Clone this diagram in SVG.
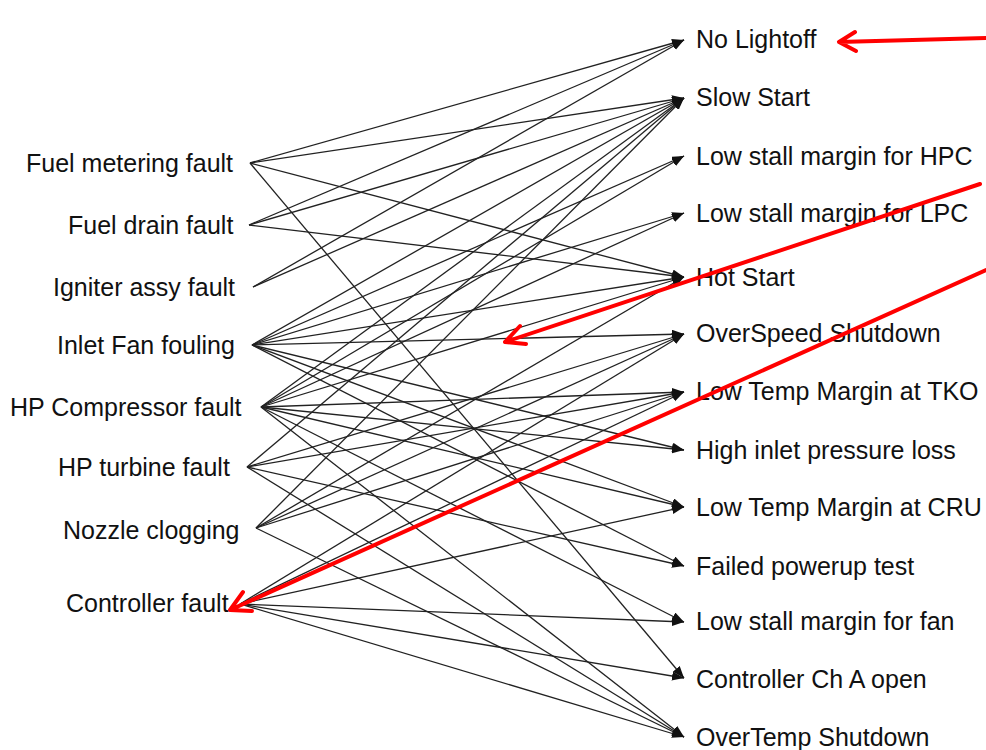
<svg xmlns="http://www.w3.org/2000/svg" width="986" height="750" viewBox="0 0 986 750">
<style>
text{font-family:"Liberation Sans",Arial,sans-serif;font-size:25px;fill:#111}
.e line{stroke:#222;stroke-width:1.3;marker-end:url(#ah)}
.r{stroke:#f00;stroke-width:4;fill:none;stroke-linecap:round;stroke-linejoin:round}
</style>
<defs>
<marker id="ah" markerUnits="userSpaceOnUse" markerWidth="13" markerHeight="10" refX="12" refY="4.5" orient="auto">
<path d="M0,0 L12,4.5 L0,9 z" fill="#111"/>
</marker>
</defs>
<rect width="986" height="750" fill="#fff"/>
<g id="connectors" class="e">
<line x1="250" y1="163" x2="684" y2="40"/>
<line x1="250" y1="163" x2="684" y2="98"/>
<line x1="250" y1="163" x2="684" y2="277"/>
<line x1="250" y1="163" x2="684" y2="678"/>
<line x1="249" y1="225" x2="684" y2="40"/>
<line x1="249" y1="225" x2="684" y2="98"/>
<line x1="249" y1="225" x2="684" y2="277"/>
<line x1="253" y1="287" x2="684" y2="40"/>
<line x1="253" y1="287" x2="684" y2="98"/>
<line x1="252" y1="345" x2="684" y2="98"/>
<line x1="252" y1="345" x2="684" y2="156"/>
<line x1="252" y1="345" x2="684" y2="213"/>
<line x1="252" y1="345" x2="684" y2="277"/>
<line x1="252" y1="345" x2="684" y2="334"/>
<line x1="252" y1="345" x2="684" y2="450"/>
<line x1="252" y1="345" x2="684" y2="507"/>
<line x1="252" y1="345" x2="684" y2="566"/>
<line x1="261" y1="407" x2="684" y2="98"/>
<line x1="261" y1="407" x2="684" y2="156"/>
<line x1="261" y1="407" x2="684" y2="213"/>
<line x1="261" y1="407" x2="684" y2="277"/>
<line x1="261" y1="407" x2="684" y2="392"/>
<line x1="261" y1="407" x2="684" y2="450"/>
<line x1="261" y1="407" x2="684" y2="507"/>
<line x1="261" y1="407" x2="684" y2="622"/>
<line x1="261" y1="407" x2="684" y2="737"/>
<line x1="247" y1="467" x2="684" y2="98"/>
<line x1="247" y1="467" x2="684" y2="334"/>
<line x1="247" y1="467" x2="684" y2="392"/>
<line x1="247" y1="467" x2="684" y2="566"/>
<line x1="247" y1="467" x2="684" y2="737"/>
<line x1="256" y1="528" x2="684" y2="98"/>
<line x1="256" y1="528" x2="684" y2="277"/>
<line x1="256" y1="528" x2="684" y2="334"/>
<line x1="256" y1="528" x2="684" y2="392"/>
<line x1="256" y1="528" x2="684" y2="737"/>
<line x1="240" y1="604" x2="684" y2="334"/>
<line x1="240" y1="604" x2="684" y2="392"/>
<line x1="240" y1="604" x2="684" y2="507"/>
<line x1="240" y1="604" x2="684" y2="622"/>
<line x1="240" y1="604" x2="684" y2="678"/>
<line x1="240" y1="604" x2="684" y2="737"/>
</g>
<g id="n-fuel-metering"><text x="26" y="172">Fuel metering fault</text></g>
<g id="n-fuel-drain"><text x="68" y="234">Fuel drain fault</text></g>
<g id="n-igniter"><text x="53" y="296">Igniter assy fault</text></g>
<g id="n-inlet-fan"><text x="57" y="354">Inlet Fan fouling</text></g>
<g id="n-hp-compressor"><text x="10" y="416">HP Compressor fault</text></g>
<g id="n-hp-turbine"><text x="58" y="476">HP turbine fault</text></g>
<g id="n-nozzle"><text x="63" y="539">Nozzle clogging</text></g>
<g id="n-controller"><text x="66" y="612">Controller fault</text></g>
<g id="n-no-lightoff"><text x="696" y="48">No Lightoff</text></g>
<g id="n-slow-start"><text x="696" y="106">Slow Start</text></g>
<g id="n-hpc"><text x="696" y="165">Low stall margin for HPC</text></g>
<g id="n-lpc"><text x="696" y="222">Low stall margin for LPC</text></g>
<g id="n-hot-start"><text x="696" y="286">Hot Start</text></g>
<g id="n-overspeed"><text x="696" y="342">OverSpeed Shutdown</text></g>
<g id="n-tko"><text x="696" y="400">Low Temp Margin at TKO</text></g>
<g id="n-inlet-loss"><text x="696" y="459">High inlet pressure loss</text></g>
<g id="n-cru"><text x="696" y="516">Low Temp Margin at CRU</text></g>
<g id="n-powerup"><text x="696" y="575">Failed powerup test</text></g>
<g id="n-fan"><text x="696" y="630">Low stall margin for fan</text></g>
<g id="n-ch-a"><text x="696" y="688">Controller Ch A open</text></g>
<g id="n-overtemp"><text x="696" y="746">OverTemp Shutdown</text></g>
<g id="callouts">
<path class="r" d="M986,38 L839,42 M855,32 L839,42 L856,51"/>
<path class="r" d="M980,184 L505,342 M520,326 L505,342 L526,344"/>
<path class="r" d="M986,270 L230,610 M243,592 L230,610 L252,611"/>
</g>
</svg>
